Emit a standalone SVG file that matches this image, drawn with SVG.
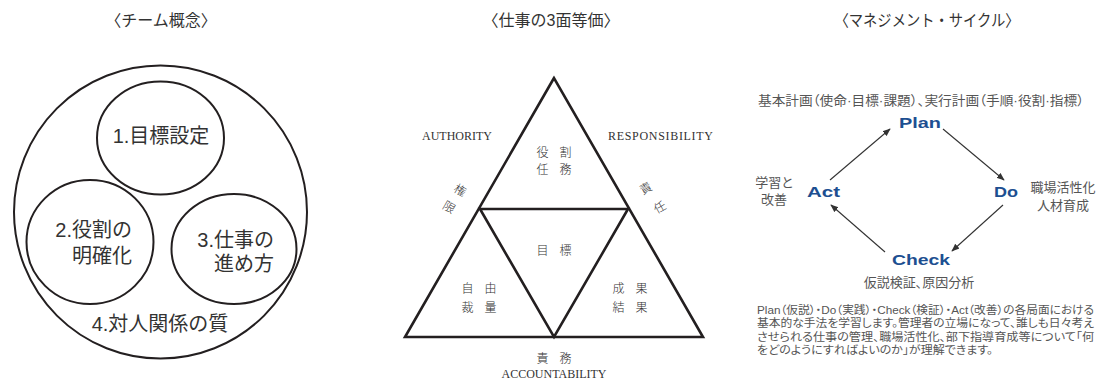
<svg xmlns="http://www.w3.org/2000/svg" width="1096" height="380" viewBox="0 0 1096 380">
<style>
.title{font-family:"Liberation Sans","Noto Sans CJK JP",sans-serif;font-size:16px;fill:#333;text-anchor:middle}
.circ{fill:none;stroke:#231f20;stroke-width:2}
.ct{font-family:"Liberation Sans","Noto Sans CJK JP",sans-serif;font-size:20px;fill:#333}
.tri{fill:none;stroke:#231f20;stroke-width:2.6;stroke-linejoin:miter}
.en{font-family:"Liberation Serif","Noto Sans CJK JP",serif;font-size:12px;fill:#333}
.jp{font-family:"Liberation Serif","Noto Sans CJK JP",serif;font-size:12px;fill:#333;text-anchor:middle;word-spacing:8px;font-weight:300}
.pd{font-family:"Liberation Sans","Noto Sans CJK JP",sans-serif;font-weight:bold;font-size:15px;fill:#1d4f91}
.gr{font-family:"Liberation Sans","Noto Sans CJK JP",sans-serif;font-size:13px;fill:#555;text-anchor:middle;font-feature-settings:"palt"}
.par{font-family:"Liberation Sans","Noto Sans CJK JP",sans-serif;font-size:11px;fill:#555;font-feature-settings:"palt"}
.arr{stroke:#333;stroke-width:1.1;fill:none;marker-end:url(#ah)}
</style>
<defs>
<marker id="ah" viewBox="0 0 10 10" refX="9" refY="5" markerWidth="8" markerHeight="8" markerUnits="userSpaceOnUse" orient="auto">
<path d="M0,1 L10,5 L0,9 Z" fill="#333"/>
</marker>
</defs>
<rect width="1096" height="380" fill="#fff"/>

<!-- Titles -->
<text class="title" x="161" y="26">〈チーム概念〉</text>
<text class="title" x="551" y="26">〈仕事の3面等価〉</text>
<text class="title" x="927" y="26" textLength="185" lengthAdjust="spacingAndGlyphs">〈マネジメント・サイクル〉</text>

<!-- Team concept -->
<g id="team-outer">
<circle class="circ" cx="160.5" cy="212" r="146.5"/>
<text class="ct" x="160" y="331" text-anchor="middle">4.対人関係の質</text>
</g>
<g id="team-goal">
<ellipse class="circ" cx="160.5" cy="138" rx="63.5" ry="56.5"/>
<text class="ct" x="161" y="143" text-anchor="middle">1.目標設定</text>
</g>
<g id="team-role">
<ellipse class="circ" cx="90" cy="242" rx="63.5" ry="62"/>
<text class="ct" x="132" y="237" text-anchor="end">2.役割の</text>
<text class="ct" x="132" y="263" text-anchor="end">明確化</text>
</g>
<g id="team-work">
<ellipse class="circ" cx="234" cy="249" rx="62.5" ry="55"/>
<text class="ct" x="274" y="247" text-anchor="end">3.仕事の</text>
<text class="ct" x="274" y="271" text-anchor="end">進め方</text>
</g>

<!-- Triangle -->
<g id="triangle">
<polygon class="tri" points="554,78 405,337 703,337"/>
<polygon class="tri" points="480,209 628,209 554,337"/>
</g>
<g id="tri-top">
<text class="jp" x="554" y="157">役 割</text>
<text class="jp" x="554" y="174">任 務</text>
</g>
<g id="tri-center"><text class="jp" x="554" y="255">目 標</text></g>
<g id="tri-left">
<text class="jp" x="479" y="293">自 由</text>
<text class="jp" x="479" y="312">裁 量</text>
</g>
<g id="tri-right">
<text class="jp" x="630" y="293">成 果</text>
<text class="jp" x="630" y="312">結 果</text>
</g>
<g id="tri-labels">
<text class="en" x="422" y="140">AUTHORITY</text>
<text class="en" x="608" y="140" textLength="105" lengthAdjust="spacing">RESPONSIBILITY</text>
<text class="jp" x="554" y="363">責 務</text>
<text class="en" x="554" y="378" text-anchor="middle">ACCOUNTABILITY</text>
<text class="jp" transform="translate(458,194) rotate(30)">権</text>
<text class="jp" transform="translate(447,211) rotate(30)">限</text>
<text class="jp" transform="translate(648,192) rotate(-30)">責</text>
<text class="jp" transform="translate(662,211) rotate(-30)">任</text>
</g>

<!-- Management cycle -->
<g id="connectors">
<line class="arr" x1="830" y1="180" x2="890" y2="129"/>
<line class="arr" x1="943" y1="129" x2="1004" y2="180"/>
<line class="arr" x1="1003" y1="205" x2="952" y2="251"/>
<line class="arr" x1="885" y1="252" x2="831" y2="205"/>
</g>
<g id="plan">
<text class="gr" x="921" y="105" font-size="12" textLength="326" lengthAdjust="spacingAndGlyphs">基本計画（使命·目標·課題）、実行計画（手順·役割·指標）</text>
<text class="pd" x="899" y="128" textLength="42" lengthAdjust="spacingAndGlyphs">Plan</text>
</g>
<g id="do">
<text class="pd" x="994" y="197" textLength="24" lengthAdjust="spacingAndGlyphs">Do</text>
<text class="gr" x="1063" y="192">職場活性化</text>
<text class="gr" x="1063" y="210">人材育成</text>
</g>
<g id="check">
<text class="pd" x="892" y="265" textLength="58" lengthAdjust="spacingAndGlyphs">Check</text>
<text class="gr" x="919" y="287">仮説検証、原因分析</text>
</g>
<g id="act">
<text class="pd" x="807" y="197" textLength="33" lengthAdjust="spacingAndGlyphs">Act</text>
<text class="gr" x="774" y="187">学習と</text>
<text class="gr" x="774" y="204">改善</text>
</g>
<g id="desc">
<text class="par" x="757" y="314" textLength="337" lengthAdjust="spacingAndGlyphs">Plan（仮説）・Do（実践）・Check（検証）・Act（改善）の各局面における</text>
<text class="par" x="757" y="327" textLength="337" lengthAdjust="spacingAndGlyphs">基本的な手法を学習します。管理者の立場になって、誰しも日々考え</text>
<text class="par" x="757" y="341" textLength="337" lengthAdjust="spacingAndGlyphs">させられる仕事の管理、職場活性化、部下指導育成等について「何</text>
<text class="par" x="757" y="354" textLength="236" lengthAdjust="spacingAndGlyphs">をどのようにすればよいのか」が理解できます。</text>
</g>
</svg>
